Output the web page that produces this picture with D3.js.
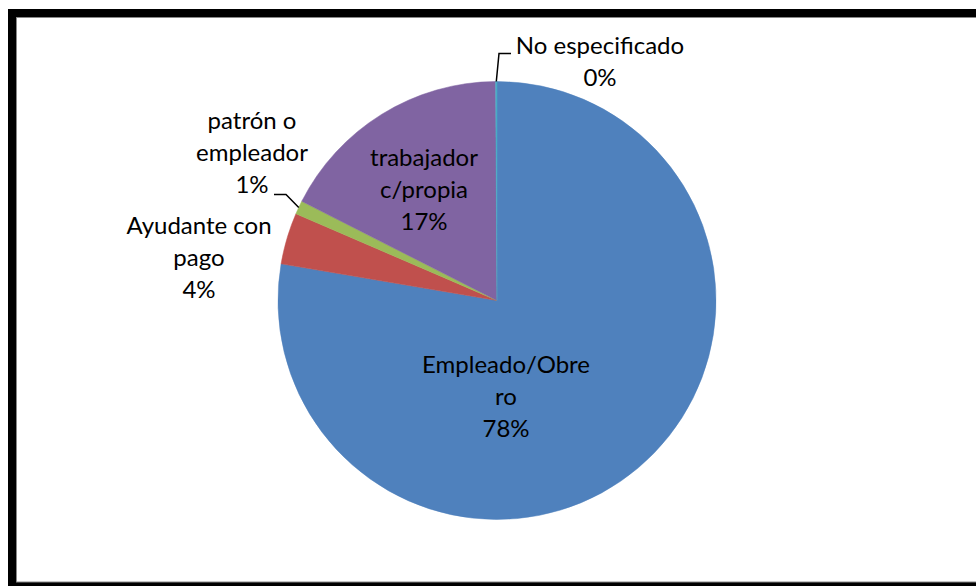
<!DOCTYPE html>
<html>
<head>
<meta charset="utf-8">
<script src="https://cdn.jsdelivr.net/npm/d3@7"></script>
<style>
  html, body { margin: 0; padding: 0; background: #fff; }
  svg { display: block; }
  text { font-family: Lato, "Open Sans", sans-serif; fill: #000; }
</style>
</head>
<body>
<svg id="chart" width="976" height="586"></svg>
<script>
// ---- data ----
const categories = ["Empleado/Obrero", "Ayudante con pago", "patrón o empleador", "trabajador c/propia", "No especificado"];
const values = [77.6, 3.8, 1.0, 17.4, 0.1];
const percentLabels = ["78%", "4%", "1%", "17%", "0%"];
const labelLines = [["Empleado/Obre", "ro"], ["Ayudante con", "pago"], ["patrón o", "empleador"], ["trabajador", "c/propia"], ["No especificado"]];
const colors = ["#4F81BD", "#C0504D", "#9BBB59", "#8064A2", "#4BACC6"];

// ---- layout ----
const W = 976, H = 586;
const cx = 497, cy = 300.5, R = 219;
// label block anchor (center x, first baseline y) relative to pie centre
const labelAnchor = [[9, 72], [-298, -67], [-245, -172], [-73, -135], [103, -247]];
const leaderFor = { 2: { elbow: [-211, -106], end: [-223, -106] }, 4: { elbow: [2, -247], end: [14, -247] } };
const lineGap = 32;

const svg = d3.select("#chart");

// frame
svg.append("rect").attr("x", 8).attr("y", 9).attr("width", W).attr("height", H).attr("fill", "#000");
svg.append("rect").attr("x", 16.5).attr("y", 17.5).attr("width", W).attr("height", 564.5)
  .attr("fill", "#fff").attr("stroke", "#888").attr("stroke-width", 1);

const data = categories.map((c, i) => ({ name: c, value: values[i], i }));
const pie = d3.pie().sort(null).value(d => d.value).startAngle(0).endAngle(2 * Math.PI);
const arcs = pie(data);
const arc = d3.arc().innerRadius(0).outerRadius(R);

const g = svg.append("g").attr("transform", `translate(${cx},${cy})`);
g.selectAll("path.slice").data(arcs).enter().append("path")
  .attr("class", "slice")
  .attr("d", arc)
  .attr("fill", d => colors[d.data.i])
  .attr("stroke", d => colors[d.data.i])
  .attr("stroke-width", 0.5);

// determine font size so text metrics approximate the reference
const probe = svg.append("text").attr("font-size", 20).text("Empleado/Obre");
const w20 = probe.node().getComputedTextLength();
probe.remove();
const fs = Math.min(24, Math.max(18, 20 * 170 / w20));

// leader lines
Object.keys(leaderFor).forEach(k => {
  const a = arcs[+k];
  const mid = (a.startAngle + a.endAngle) / 2;
  const p0 = [R * Math.sin(mid), -R * Math.cos(mid)];
  const L = leaderFor[k];
  g.append("polyline")
    .attr("points", [p0, L.elbow, L.end].map(p => p.join(",")).join(" "))
    .attr("fill", "none").attr("stroke", "#000").attr("stroke-width", 1.5);
});

// labels
arcs.forEach((a, i) => {
  const [ax, ay] = labelAnchor[i];
  const lines = labelLines[i].concat([percentLabels[i]]);
  const t = g.append("text").attr("text-anchor", "middle").attr("font-size", fs);
  lines.forEach((ln, j) => {
    t.append("tspan").attr("x", ax).attr("y", ay + j * lineGap).text(ln);
  });
});
</script>
</body>
</html>
